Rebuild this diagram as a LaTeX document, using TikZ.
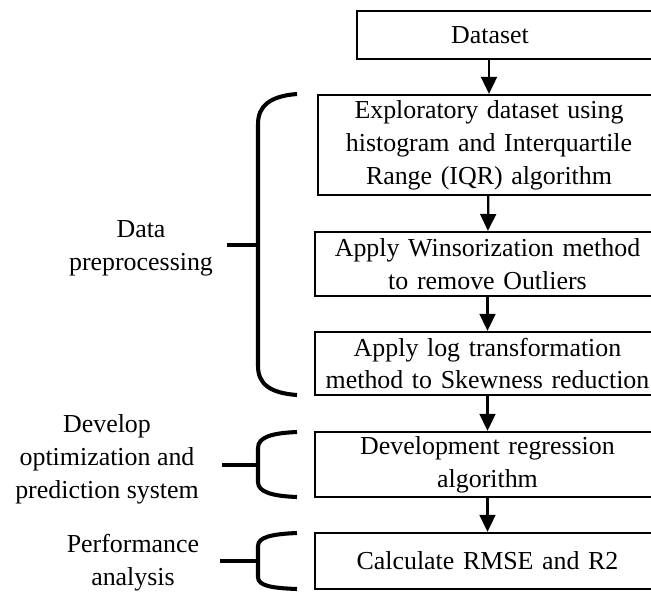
\documentclass[tikz,border=0pt]{standalone}
\usepackage{fontspec}
\setmainfont{Liberation Serif}
\usetikzlibrary{arrows.meta}

\tikzset{
  box/.style={draw, line width=1pt, align=center, inner xsep=0pt, inner ysep=0pt, text width=153.2pt},
  arr/.style={line width=1pt, -{Triangle[width=7pt,length=7.5pt]}},
  brace/.style={line width=1.8pt},
  grouplabel/.style={align=center}
}

\begin{document}
\begin{tikzpicture}[x=0.444pt, y=-0.444pt, font=\fontsize{11.5}{14.6}\selectfont]
	\useasboundingbox (0,0) rectangle (651,592);
	\clip (0,0) rectangle (651,592);
	%the boxes down the right
	\node[box, text width=134.5pt, minimum height=21.3pt] (dataset) at (508.5,35) {\hspace*{-16.4pt}Dataset};
	\node[box, text width=151.8pt, minimum height=44.4pt] (explore) at (489,145)
		{Exploratory dataset using\\histogram and Interquartile\\Range (IQR) algorithm};
	\node[box, minimum height=28.4pt] (winsor) at (487.5,264)
		{Apply Winsorization method\\to remove Outliers};
	\node[box, minimum height=28pt] (logtr) at (487.5,363.5)
		{Apply log transformation\\method to Skewness reduction};
	\node[box, minimum height=28.9pt] (regress) at (487.5,464.5)
		{Development regression\\algorithm};
	\node[box, minimum height=24.9pt] (rmse) at (487.5,561)
		{Calculate RMSE and R2};
	%arrows between them
	\draw[arr] (explore.north |- dataset.south) -- (explore.north);
	\draw[arr] (explore) -- (winsor);
	\draw[arr] (winsor) -- (logtr);
	\draw[arr] (logtr) -- (regress);
	\draw[arr] (regress) -- (rmse);
	%first brace
	\draw[brace] (297,94) .. controls (270,96) and (258,106) .. (258,124)
		-- (258,366) .. controls (258,384) and (270,393) .. (297,395);
	\draw[brace] (227,245) -- (258,245);
	\node[grouplabel] (prep) at (141,248) {Data\\preprocessing};
	%second brace
	\draw[brace] (297,432) .. controls (272,433) and (258,437) .. (258,448)
		-- (258,482) .. controls (258,492) and (272,496) .. (297,497);
	\draw[brace] (222,465) -- (258,465);
	\node[grouplabel] (develop) at (107,459) {Develop\\optimization and\\prediction system};
	%third brace
	\draw[brace] (297,533) .. controls (272,534) and (258,537) .. (258,546)
		-- (258,577) .. controls (258,586) and (272,588) .. (297,589);
	\draw[brace] (220,561) -- (258,561);
	\node[grouplabel] (perf) at (133,563) {Performance\\analysis};
\end{tikzpicture}
\end{document}
